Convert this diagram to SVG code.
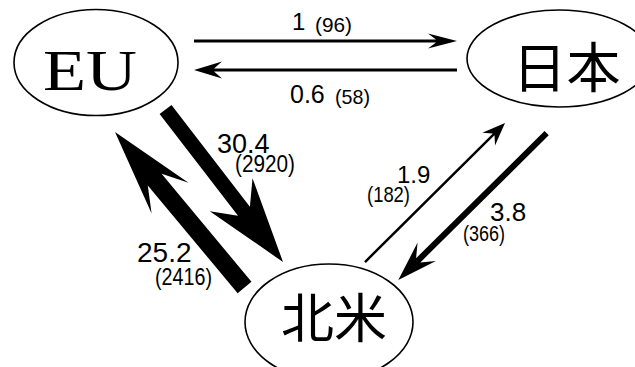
<svg xmlns="http://www.w3.org/2000/svg" width="635" height="367" viewBox="0 0 635 367">
  <style>
    .node { fill: #ffffff; stroke: #000000; stroke-width: 1.6; }
    .arrow { fill: #000000; stroke: none; }
    .big { font-family: "Liberation Sans", Arial, sans-serif; fill: #000; }
    .small { font-family: "Liberation Sans", Arial, sans-serif; fill: #000; }
    .cjk { font-family: "Noto Sans CJK JP", "Noto Sans CJK SC", sans-serif; fill: #000; text-anchor: middle; }
  </style>
  <rect width="635" height="367" fill="#ffffff"/>

  <!-- trade-flow connectors: each arrow is drawn pointing +x with its tip at the origin -->
  <g id="connectors">
    <!-- EU to Japan -->
    <polygon class="arrow" transform="translate(457,41)" points="0,0 -29,-7.5 -21,-1.5 -263,-1.5 -263,1.5 -21,1.5 -29,7.5"/>
    <!-- Japan to EU -->
    <polygon class="arrow" transform="translate(194,70) rotate(180)" points="0,0 -28,-8.5 -20,-1.5 -263,-1.5 -263,1.5 -20,1.5 -28,8.5"/>
    <!-- EU to North America -->
    <polygon class="arrow" transform="translate(283,262) rotate(52.4)" points="0,0 -85,-27 -64,-7.5 -192.5,-7.5 -192.5,7.5 -64,7.5 -85,27"/>
    <!-- North America to EU -->
    <polygon class="arrow" transform="translate(115,132) rotate(230.2)" points="0,0 -86,-24 -62,-9 -202.4,-9 -202.4,9 -62,9 -86,24"/>
    <!-- Japan to North America -->
    <polygon class="arrow" transform="translate(398.3,280) rotate(135.3)" points="0,0 -40,-13 -28,-3 -208.7,-3 -208.7,3 -28,3 -40,13"/>
    <!-- North America to Japan -->
    <polygon class="arrow" transform="translate(505,123) rotate(-44.8)" points="0,0 -23,-9 -16,-1.25 -197.3,-1.25 -197.3,1.25 -16,1.25 -23,9"/>
  </g>

  <g id="labels">
    <text class="big" x="292" y="30" font-size="24">1</text>
    <text class="small" x="315" y="31.5" font-size="21" textLength="37" lengthAdjust="spacingAndGlyphs">(96)</text>

    <text class="big" x="290" y="103" font-size="25">0.6</text>
    <text class="small" x="335" y="104" font-size="21" textLength="35" lengthAdjust="spacingAndGlyphs">(58)</text>

    <text class="big" x="217" y="152.5" font-size="27">30.4</text>
    <text class="small" x="235" y="172" font-size="23" textLength="60" lengthAdjust="spacingAndGlyphs">(2920)</text>

    <text class="big" x="137" y="261.5" font-size="28">25.2</text>
    <text class="small" x="155" y="285" font-size="24" textLength="57" lengthAdjust="spacingAndGlyphs">(2416)</text>

    <text class="big" x="397" y="183" font-size="24">1.9</text>
    <text class="small" x="367" y="202" font-size="22" textLength="43" lengthAdjust="spacingAndGlyphs">(182)</text>

    <text class="big" x="490" y="221" font-size="26">3.8</text>
    <text class="small" x="463" y="241" font-size="22" textLength="42" lengthAdjust="spacingAndGlyphs">(366)</text>
  </g>

  <g id="node-eu">
    <ellipse class="node" cx="96" cy="62.5" rx="82" ry="53"/>
    <text x="43" y="90" font-family="'Liberation Serif', 'Times New Roman', serif" font-size="57" textLength="94" lengthAdjust="spacingAndGlyphs">EU</text>
  </g>

  <g id="node-japan">
    <ellipse class="node" cx="559" cy="58.5" rx="92" ry="48.5"/>
    <text class="cjk" x="566.5" y="88" font-size="54">日本</text>
  </g>

  <g id="node-north-america">
    <ellipse class="node" cx="329" cy="322" rx="84" ry="58"/>
    <text class="cjk" x="334" y="338" font-size="53">北米</text>
  </g>
</svg>
